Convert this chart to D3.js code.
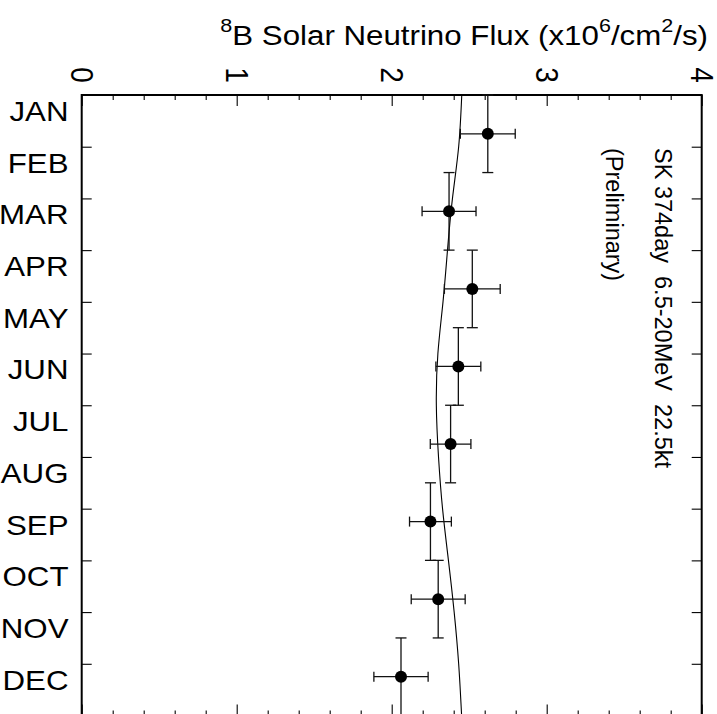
<!DOCTYPE html>
<html>
<head>
<meta charset="utf-8">
<script src="https://cdn.jsdelivr.net/npm/d3@7"></script>
<style>
  html, body { margin: 0; padding: 0; background: #fff; }
  text { font-family: "Liberation Sans", Arial, Helvetica, sans-serif; fill: #000; }
</style>
</head>
<body>
<svg id="chart" width="717" height="714"></svg>
<script>
// month names on the left axis
const months = ["JAN","FEB","MAR","APR","MAY","JUN","JUL","AUG","SEP","OCT","NOV","DEC"];

// flux bins (1.5 months each), value and error (x10^6 /cm^2/s)
const binMonth = [0.75, 2.25, 3.75, 5.25, 6.75, 8.25, 9.75, 11.25];
const binHalf = [0.75, 0.75, 0.75, 0.75, 0.75, 0.75, 0.75, 0.75];
const flux = [2.62, 2.37, 2.52, 2.43, 2.38, 2.25, 2.30, 2.06];
const fluxErr = [0.177, 0.174, 0.18, 0.145, 0.131, 0.135, 0.174, 0.175];

// expected seasonal variation
const curveMonth = [0, 1, 2, 3, 4, 5, 6, 7, 8, 9, 10, 11, 12];
const curveFlux = [2.452, 2.432, 2.392, 2.360, 2.331, 2.298, 2.288, 2.302, 2.328, 2.366, 2.403, 2.432, 2.451];

// top axis labels
const fluxTicks = [0, 1, 2, 3, 4];
const fluxMinor = d3.range(0, 4.001, 0.2).filter(v => Math.abs(v - Math.round(v)) > 1e-6);

const stretch = 1.137;   // the original picture is wider than tall

const svg = d3.select("#chart");

const mLeft = 81.7, mRight = 701.7, mTop = 95, mBottom = 715.5;

const xScale = d3.scaleLinear().domain([0, 4]).range([mLeft, mRight]);
const yScale = d3.scaleLinear().domain([0, 12]).range([mTop, mBottom]);

// ---- axes (ticks pointing inward) ----
function styleAxis(g) {
    g.select(".domain").remove();
    g.selectAll(".tick line").attr("stroke", "#000").attr("stroke-width", 1.1);
    g.selectAll(".tick text").remove();
}

svg.append("g").attr("transform", `translate(0,${mTop})`)
    .call(d3.axisTop(xScale).tickValues(fluxTicks).tickSize(-11)).call(styleAxis);
svg.append("g").attr("transform", `translate(0,${mTop})`)
    .call(d3.axisTop(xScale).tickValues(fluxMinor).tickSize(-5)).call(styleAxis);
svg.append("g").attr("transform", `translate(0,${mBottom})`)
    .call(d3.axisBottom(xScale).tickValues(fluxTicks).tickSize(-11)).call(styleAxis);
svg.append("g").attr("transform", `translate(0,${mBottom})`)
    .call(d3.axisBottom(xScale).tickValues(fluxMinor).tickSize(-5)).call(styleAxis);

const monthTicks = d3.range(1, 12);
svg.append("g").attr("transform", `translate(${mLeft},0)`)
    .call(d3.axisLeft(yScale).tickValues(monthTicks).tickSize(-10)).call(styleAxis);
svg.append("g").attr("transform", `translate(${mRight},0)`)
    .call(d3.axisRight(yScale).tickValues(monthTicks).tickSize(-10)).call(styleAxis);

// frame
svg.append("rect")
    .attr("x", mLeft).attr("y", mTop)
    .attr("width", mRight - mLeft).attr("height", mBottom - mTop)
    .attr("fill", "none").attr("stroke", "#000").attr("stroke-width", 2);

// top tick labels, rotated
svg.selectAll("text.xlab")
    .data(fluxTicks)
    .join("text")
    .attr("class", "xlab")
    .attr("transform", d => `translate(${xScale(d)},75) scale(${stretch},1) rotate(90)`)
    .attr("text-anchor", "middle")
    .attr("dominant-baseline", "central")
    .attr("font-size", 28)
    .text(d => d);

// month labels
svg.selectAll("text.mlab")
    .data(months)
    .join("text")
    .attr("class", "mlab")
    .attr("transform", (d, i) => `translate(68.5,${yScale(i + 0.5)}) scale(${stretch},1)`)
    .attr("text-anchor", "end")
    .attr("font-size", 27.5)
    .text(d => d);

// title
const title = svg.append("text")
    .attr("transform", `translate(708,45) scale(${stretch},1)`)
    .attr("text-anchor", "end")
    .attr("font-size", 27.5);
title.append("tspan").attr("font-size", 19).attr("dy", -13).text("8");
title.append("tspan").attr("dy", 13).text("B Solar Neutrino Flux (x10");
title.append("tspan").attr("font-size", 19).attr("dy", -13).text("6");
title.append("tspan").attr("dy", 13).text("/cm");
title.append("tspan").attr("font-size", 19).attr("dy", -13).text("2");
title.append("tspan").attr("dy", 13).text("/s)");

// expected curve
const line = d3.line()
    .x(d => xScale(d[1]))
    .y(d => yScale(d[0]))
    .curve(d3.curveNatural);

svg.append("path")
    .datum(curveMonth.map((m, i) => [m, curveFlux[i]]))
    .attr("d", line)
    .attr("fill", "none")
    .attr("stroke", "#000")
    .attr("stroke-width", 1.1);

// data points with error bars
const pts = binMonth.map((m, i) => ({m: m, h: binHalf[i], f: flux[i], e: fluxErr[i]}));
const eb = svg.append("g").attr("stroke", "#111").attr("stroke-width", 1.3);

// vertical bars (time bin)
eb.selectAll("line.v").data(pts).join("line").attr("class", "v")
    .attr("x1", d => xScale(d.f)).attr("x2", d => xScale(d.f))
    .attr("y1", d => yScale(d.m - d.h)).attr("y2", d => yScale(d.m + d.h));
eb.selectAll("line.vc1").data(pts).join("line").attr("class", "vc1")
    .attr("x1", d => xScale(d.f) - 5.5).attr("x2", d => xScale(d.f) + 5.5)
    .attr("y1", d => yScale(d.m - d.h)).attr("y2", d => yScale(d.m - d.h));
eb.selectAll("line.vc2").data(pts).join("line").attr("class", "vc2")
    .attr("x1", d => xScale(d.f) - 5.5).attr("x2", d => xScale(d.f) + 5.5)
    .attr("y1", d => yScale(d.m + d.h)).attr("y2", d => yScale(d.m + d.h));

// horizontal bars (flux error)
eb.selectAll("line.h").data(pts).join("line").attr("class", "h")
    .attr("x1", d => xScale(d.f - d.e)).attr("x2", d => xScale(d.f + d.e))
    .attr("y1", d => yScale(d.m)).attr("y2", d => yScale(d.m));
eb.selectAll("line.hc1").data(pts).join("line").attr("class", "hc1")
    .attr("x1", d => xScale(d.f - d.e)).attr("x2", d => xScale(d.f - d.e))
    .attr("y1", d => yScale(d.m) - 5).attr("y2", d => yScale(d.m) + 5);
eb.selectAll("line.hc2").data(pts).join("line").attr("class", "hc2")
    .attr("x1", d => xScale(d.f + d.e)).attr("x2", d => xScale(d.f + d.e))
    .attr("y1", d => yScale(d.m) - 5).attr("y2", d => yScale(d.m) + 5);

svg.selectAll("circle.pt").data(pts).join("circle").attr("class", "pt")
    .attr("cx", d => xScale(d.f)).attr("cy", d => yScale(d.m))
    .attr("r", 6).attr("fill", "#000");

// annotation, rotated
svg.append("text")
    .attr("transform", "translate(655,148) rotate(90)")
    .attr("font-size", 23.5)
    .style("white-space", "pre")
    .text("SK 374day  6.5-20MeV  22.5kt");
svg.append("text")
    .attr("transform", "translate(606,148) rotate(90)")
    .attr("font-size", 23.5)
    .text("(Preliminary)");
</script>
</body>
</html>
